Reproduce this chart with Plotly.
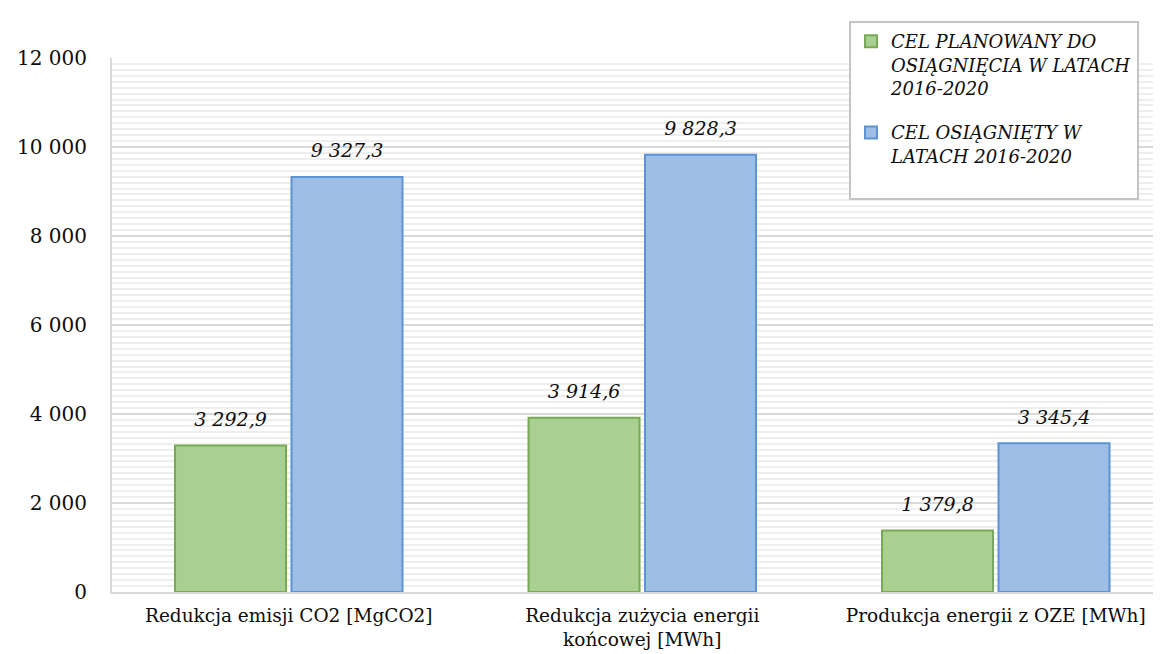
import plotly.graph_objects as go

categories = ["Redukcja emisji CO2 [MgCO2]",
              "Redukcja zużycia energii<br>końcowej [MWh]",
              "Produkcja energii z OZE [MWh]"]
planned = [3292.9, 3914.6, 1379.8]
achieved = [9327.3, 9828.3, 3345.4]
series_names = ["CEL PLANOWANY DO<br>OSIĄGNIĘCIA W LATACH<br>2016-2020",
                "CEL OSIĄGNIĘTY W<br>LATACH 2016-2020<br> "]
y_ticks = [0, 2000, 4000, 6000, 8000, 10000, 12000]

FONT = "DejaVu Serif"
TXT = "#0d0d0d"
COLORS = ["#a9cf91", "#9ebee5"]
EDGES = ["#78a955", "#5b93d3"]

fig = go.Figure()
for i, vals in enumerate([planned, achieved]):
    fig.add_trace(go.Bar(
        x=categories, y=vals, name=series_names[i], legendgroup=str(i),
        offsetgroup=str(i),
        marker=dict(color=COLORS[i], line=dict(color=EDGES[i], width=2)),
        hoverinfo="skip",
    ))
for i, vals in enumerate([planned, achieved]):
    fig.add_trace(go.Scatter(
        x=categories, y=vals, offsetgroup=str(i), mode="markers+text",
        marker=dict(size=22, opacity=0),
        text=[f"{v:,.1f}".replace(",", " ").replace(".", ",") for v in vals],
        textposition="top center",
        textfont=dict(family=FONT, size=19, color=TXT, style="italic"),
        showlegend=False, cliponaxis=False, hoverinfo="skip",
    ))

fig.update_layout(
    width=1161, height=654,
    margin=dict(l=104, r=0, t=50, b=70, autoexpand=False),
    paper_bgcolor="white", plot_bgcolor="white",
    separators=", ",
    barmode="group", bargap=0.341, bargroupgap=0.047,
    scattermode="group", scattergap=0.341,
    font=dict(family=FONT, size=18, color=TXT),
    legend=dict(
        x=(841 - 104) / 1057, y=(584 - 13) / 534, xanchor="left", yanchor="top",
        bgcolor="white", bordercolor="#c4c4c4", borderwidth=2,
        font=dict(family=FONT, size=18, color=TXT, style="italic"),
        tracegroupgap=18, itemwidth=30, valign="top",
    ),
    showlegend=True,
)
fig.update_yaxes(
    automargin=False,
    range=[0, 12000], tickvals=y_ticks, tickformat=",d",
    showgrid=True, gridcolor="#d9d9d9", gridwidth=2,
    showline=True, linecolor="#d9d9d9", linewidth=2,
    ticks="outside", ticklen=19, tickcolor="rgba(0,0,0,0)",
    tickfont=dict(family=FONT, size=20, color=TXT),
    zeroline=False,
    minor=dict(dtick=2000/15, tick0=0, showgrid=True, gridcolor="#eeeeee", gridwidth=2),
)
fig.update_xaxes(
    automargin=False, range=[-0.5, 2.49],
    showline=True, linecolor="#d9d9d9", linewidth=2,
    ticks="outside", ticklen=6, tickcolor="rgba(0,0,0,0)",
    tickfont=dict(family=FONT, size=18.5, color=TXT),
    showgrid=False,
)

fig.write_html("out.html")
